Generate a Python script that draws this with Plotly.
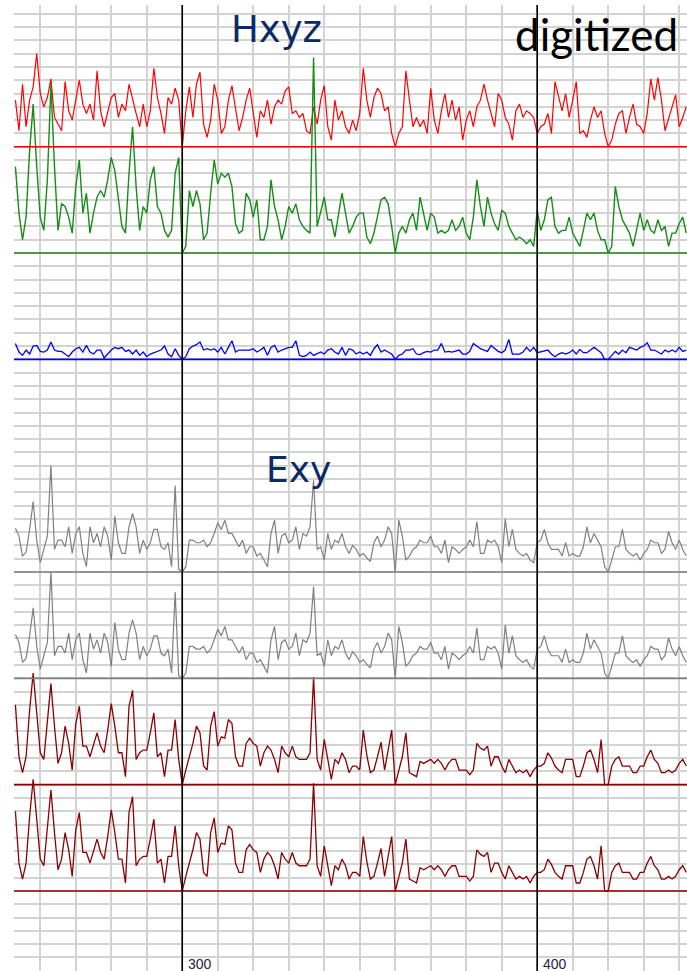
import plotly.graph_objects as go

# Sample index (time axis) shared by every channel
x_start, x_stop = 253, 443
sample_x = list(range(x_start, x_stop))

# Magnetic channels (grid units above each channel's baseline)
hx_vals = [
    3.5, 1.2, 4.7, 1.5, 3.5, 4.5, 7.0, 4.0, 3.0, 3.7,
    5.1, 2.2, 1.7, 1.2, 4.9, 2.7, 2.0, 3.5, 5.0, 3.2,
    2.5, 3.2, 2.0, 5.7, 2.7, 1.5, 2.5, 3.7, 4.0, 2.2,
    3.2, 2.7, 4.7, 3.5, 2.5, 1.5, 3.2, 1.5, 2.7, 5.9,
    3.7, 2.5, 1.0, 3.7, 3.2, 4.4, 3.5, 0.0, 2.7, 4.5,
    2.2, 4.7, 5.6, 1.7, 0.7, 2.0, 4.7, 3.5, 1.0, 1.5,
    3.5, 4.6, 2.7, 1.2, 2.2, 3.5, 4.4, 2.5, 0.7, 2.7,
    2.2, 3.5, 1.7, 3.0, 3.5, 3.2, 4.2, 4.5, 2.5, 2.7,
    2.2, 2.5, 1.2, 1.0, 3.0, 1.7, 3.5, 4.6, 1.5, 0.5,
    3.5, 2.0, 2.7, 1.5, 1.0, 2.0, 1.2, 2.5, 5.9, 3.5,
    2.2, 3.7, 4.4, 4.0, 2.7, 3.0, 1.0, 0.0, 1.0, 1.5,
    5.7, 3.5, 1.5, 2.2, 1.5, 2.0, 1.0, 4.4, 2.0, 1.0,
    2.7, 4.0, 2.2, 3.5, 2.0, 3.0, 0.5, 2.0, 2.7, 1.5,
    3.0, 3.5, 4.7, 3.5, 2.5, 1.5, 4.0, 3.5, 2.2, 1.7,
    0.5, 2.7, 3.2, 2.2, 2.7, 2.5, 2.2, 1.0, 1.5, 1.7,
    2.5, 1.0, 4.9, 3.7, 2.7, 4.0, 2.2, 3.5, 4.9, 1.0,
    1.2, 0.7, 2.0, 3.0, 2.2, 2.7, 1.0, 0.0, 0.5, 1.7,
    2.5, 2.7, 1.0, 2.2, 3.2, 1.7, 1.5, 1.0, 2.5, 5.1,
    3.5, 5.2, 3.5, 1.2, 2.2, 3.0, 3.9, 1.5, 2.2, 3.0,
]
hy_vals = [
    6.5, 3.0, 1.0, 2.7, 7.7, 11.2, 6.5, 2.7, 1.7, 5.5,
    12.7, 6.5, 1.7, 3.7, 3.5, 2.7, 1.5, 5.0, 7.0, 3.0,
    4.5, 1.5, 3.0, 4.2, 4.7, 4.2, 5.5, 7.2, 6.2, 4.0,
    2.0, 1.5, 6.0, 9.5, 5.0, 1.7, 3.5, 3.0, 5.5, 6.5,
    3.5, 3.0, 1.7, 1.2, 1.7, 6.0, 7.2, 0.0, 0.5, 4.7,
    3.5, 4.7, 3.7, 1.0, 1.5, 4.5, 7.0, 5.2, 6.0, 5.7,
    6.0, 5.0, 2.2, 1.5, 1.7, 4.5, 4.0, 2.7, 4.0, 1.0,
    1.0, 2.0, 5.5, 3.5, 2.5, 1.0, 2.0, 3.5, 3.0, 3.7,
    2.5, 2.0, 1.7, 1.5, 14.7, 2.0, 3.2, 4.2, 2.5, 2.5,
    1.2, 3.0, 4.5, 3.0, 1.5, 2.0, 2.7, 3.0, 3.0, 1.2,
    0.7, 1.5, 2.7, 4.0, 4.2, 3.7, 2.0, 0.0, 1.5, 2.0,
    1.5, 2.5, 3.0, 1.7, 4.2, 3.0, 1.7, 3.0, 2.7, 1.5,
    1.7, 1.5, 1.7, 2.5, 1.7, 2.0, 2.7, 1.5, 1.0, 2.7,
    5.5, 3.5, 2.0, 4.2, 3.0, 2.2, 1.7, 3.2, 3.0, 2.0,
    1.5, 1.0, 1.2, 1.0, 0.7, 1.0, 0.5, 3.2, 1.7, 2.5,
    4.0, 4.2, 2.0, 1.5, 1.7, 1.7, 2.7, 1.5, 1.0, 0.5,
    1.7, 3.0, 2.5, 3.0, 1.7, 1.0, 1.0, 0.0, 0.5, 5.0,
    3.5, 2.5, 2.0, 1.5, 0.5, 1.7, 3.0, 1.7, 2.5, 1.7,
    1.5, 2.5, 1.7, 2.0, 0.5, 1.5, 1.5, 2.2, 2.7, 1.5,
]
hz_vals = [
    1.2, 0.55, 0.3, 0.7, 0.4, 1.0, 1.05, 0.6, 0.55, 0.7,
    1.3, 0.7, 0.6, 0.6, 0.4, 0.2, 0.55, 0.8, 0.9, 0.55,
    1.05, 0.55, 0.4, 0.7, 0.7, 0.1, 0.4, 0.7, 0.9, 0.8,
    0.9, 0.6, 0.7, 0.4, 0.7, 0.3, 0.55, 0.2, 0.4, 0.5,
    0.55, 0.7, 1.0, 0.4, 0.2, 0.8, 0.3, 0.0, 0.2, 0.8,
    1.0, 1.1, 1.3, 0.7, 0.8, 0.7, 0.8, 0.55, 0.9, 0.4,
    0.9, 1.4, 0.55, 0.7, 0.7, 0.7, 0.7, 0.8, 0.55, 0.7,
    0.9, 0.3, 0.9, 1.05, 0.55, 0.7, 0.8, 0.9, 0.9, 1.4,
    0.3, 0.2, 0.3, 0.55, 0.3, 0.4, 0.55, 0.4, 0.7, 0.8,
    0.55, 0.4, 0.9, 0.3, 0.8, 0.7, 0.4, 0.55, 0.4, 0.55,
    0.3, 0.8, 1.1, 0.55, 0.7, 0.55, 0.4, 0.0, 0.3, 0.4,
    0.7, 0.7, 0.8, 0.4, 0.35, 0.5, 0.6, 0.55, 0.7, 0.7,
    1.2, 0.55, 0.6, 0.55, 0.6, 0.7, 0.4, 0.4, 0.6, 1.2,
    1.0, 0.8, 0.7, 0.6, 1.05, 0.8, 0.6, 0.5, 0.7, 1.5,
    0.4, 0.4, 0.4, 0.55, 0.9, 0.6, 0.9, 0.5, 0.55, 0.6,
    0.7, 0.4, 0.2, 0.4, 0.5, 0.4, 0.5, 0.7, 0.4, 0.75,
    0.5, 0.5, 0.7, 0.9, 0.7, 0.5, 0.0, 0.0, 0.3, 0.6,
    0.4, 0.7, 0.5, 0.9, 0.8, 0.7, 0.9, 1.0, 1.25, 0.7,
    0.7, 0.55, 0.4, 0.7, 0.55, 0.7, 0.55, 0.9, 0.6, 0.7,
]

# Electric channels
ex_vals = [
    3.3, 2.7, 1.2, 1.5, 3.2, 5.3, 2.4, 0.7, 1.7, 2.7,
    8.0, 1.7, 2.4, 2.4, 1.9, 3.4, 1.4, 2.9, 3.4, 1.4,
    0.4, 3.4, 2.2, 2.9, 1.9, 3.4, 2.7, 0.9, 4.2, 2.2,
    1.4, 1.4, 3.4, 4.4, 3.4, 1.4, 2.4, 1.7, 2.2, 3.2,
    3.2, 1.9, 1.7, 2.2, 0.4, 6.5, 0.2, 0.0, 0.4, 2.4,
    2.4, 2.2, 2.2, 2.4, 1.9, 2.2, 2.9, 3.7, 3.2, 3.9,
    2.9, 2.9, 2.4, 1.9, 2.4, 1.4, 1.9, 1.9, 1.2, 1.4,
    0.9, 0.4, 2.9, 3.9, 1.4, 2.7, 2.9, 2.2, 2.4, 3.4,
    1.7, 2.9, 2.7, 3.4, 6.9, 1.7, 1.9, 0.9, 2.9, 1.7,
    2.4, 2.2, 2.9, 1.9, 1.4, 2.0, 1.7, 1.2, 1.4, 1.05,
    0.8, 2.2, 2.7, 1.9, 2.4, 3.4, 2.9, 0.0, 3.9, 2.7,
    0.9, 1.2, 1.7, 1.9, 2.4, 2.2, 2.2, 2.7, 1.9, 1.9,
    1.4, 2.4, 0.7, 1.9, 1.7, 1.4, 1.7, 1.9, 2.4, 1.9,
    3.8, 1.4, 1.4, 2.4, 2.2, 2.4, 1.9, 0.7, 4.0, 1.9,
    3.2, 1.7, 1.4, 1.2, 1.4, 0.9, 0.7, 2.2, 2.4, 3.2,
    2.2, 1.7, 1.7, 1.7, 1.2, 2.2, 1.2, 1.4, 1.2, 1.2,
    1.9, 3.4, 2.2, 2.9, 2.4, 1.9, 0.4, 0.0, 0.9, 1.9,
    1.9, 3.2, 1.7, 1.4, 1.2, 1.4, 0.9, 1.4, 1.7, 2.4,
    2.2, 2.2, 1.4, 1.7, 3.05, 2.2, 1.7, 2.4, 1.7, 1.2,
]
ey_vals = [
    6.0, 2.1, 0.9, 2.1, 5.6, 8.4, 5.4, 2.4, 1.9, 4.6,
    7.6, 4.4, 1.6, 2.4, 4.4, 3.1, 1.1, 4.6, 5.9, 2.9,
    2.9, 2.1, 3.1, 3.9, 2.9, 2.4, 4.1, 6.1, 4.4, 2.4,
    2.4, 0.6, 5.9, 7.1, 1.9, 2.4, 2.6, 2.6, 3.9, 5.4,
    2.1, 2.4, 0.6, 2.6, 2.6, 4.9, 1.9, 0.0, 1.1, 2.1,
    3.1, 4.4, 3.9, 1.4, 1.1, 4.4, 5.5, 2.9, 3.6, 3.5,
    4.9, 4.6, 2.1, 1.4, 1.4, 3.1, 3.5, 3.1, 2.9, 1.4,
    2.4, 2.9, 2.6, 1.9, 0.9, 2.9, 2.4, 2.1, 2.9, 2.1,
    1.9, 1.9, 1.9, 2.4, 8.1, 1.9, 1.1, 3.4, 1.9, 0.4,
    1.9, 1.6, 2.4, 1.9, 0.9, 1.4, 1.4, 1.1, 4.1, 2.2,
    0.9, 1.1, 2.1, 3.2, 1.1, 2.6, 4.1, 0.0, 1.1, 2.1,
    3.9, 0.9, 0.75, 0.6, 1.75, 1.6, 1.75, 1.9, 1.6, 1.9,
    1.6, 1.1, 1.6, 1.9, 1.9, 1.1, 1.1, 1.1, 0.75, 1.1,
    3.1, 2.75, 2.6, 2.9, 1.4, 2.1, 2.1, 1.4, 0.9, 1.9,
    1.4, 0.9, 1.1, 0.9, 1.1, 0.6, 1.1, 1.4, 1.4, 1.6,
    2.4, 2.0, 1.4, 1.1, 0.9, 1.9, 1.9, 1.9, 0.6, 0.6,
    1.4, 2.4, 2.6, 1.9, 0.9, 3.4, 0.0, 0.0, 1.4, 1.9,
    2.1, 1.4, 1.4, 1.4, 0.9, 0.9, 1.4, 1.4, 2.1, 2.6,
    1.9, 1.6, 0.9, 0.9, 1.1, 0.9, 1.1, 1.6, 1.9, 1.4,
]

# Channel stacking: (values, baseline offset in grid units, colour, line width)
channels = [
    (hx_vals, 0, "#ff0000", 1.2),
    (hy_vals, -8, "#168c16", 1.4),
    (hz_vals, -16, "#0000ff", 1.3),
    (ex_vals, -32, "#808080", 1.2),
    (ex_vals, -40, "#808080", 1.2),
    (ey_vals, -48, "#8b0000", 1.3),
    (ey_vals, -56, "#8b0000", 1.3),
]

marker_ticks = [300, 400]
tick_labels = ["300", "400"]

x_range = [252.6, 442.2]
y_range = [-62.02, 10.66]

fig = go.Figure()
shapes = []
for vals, base, color, lw in channels:
    # zero line of each channel
    fig.add_hline(y=base, line=dict(color=color, width=1.6), layer="above")
    fig.add_trace(go.Scatter(x=sample_x, y=[v + base for v in vals],
                             mode="lines", line=dict(color=color, width=lw),
                             hoverinfo="skip", showlegend=False))

for t in marker_ticks:
    fig.add_vline(x=t, line=dict(color="#000000", width=1.6), layer="above")

W, H = 687, 971
ml, mt = 14, 5


def px(xp, yp):
    return (xp - ml) / (W - ml), (H - yp) / (H - mt)


annotations = []
for t, lab in zip(marker_ticks, tick_labels):
    annotations.append(dict(x=t, xref="x", y=0, yref="paper", text=lab,
                            showarrow=False, xanchor="left", yanchor="bottom",
                            xshift=4, yshift=-3,
                            font=dict(family="Liberation Sans", size=14,
                                      color="#1c2540")))

navy = "#0b2a66"
hx, hy = px(229, 29)
annotations.append(dict(x=hx, y=hy, xref="paper", yref="paper", text="Hxyz",
                        showarrow=False, xanchor="left", yanchor="middle",
                        font=dict(family="DejaVu Sans", size=37, color=navy)))
dx, dy = px(513, 34)
annotations.append(dict(x=dx, y=dy, xref="paper", yref="paper", text="digitized",
                        showarrow=False, xanchor="left", yanchor="middle",
                        font=dict(family="Lato", size=44, color="#000000")))
ex, ey = px(264, 470)
annotations.append(dict(x=ex, y=ey, xref="paper", yref="paper", text="Exy",
                        showarrow=False, xanchor="left", yanchor="middle",
                        font=dict(family="DejaVu Sans", size=36, color=navy)))

fig.update_layout(
    width=W, height=H,
    margin=dict(l=ml, r=0, t=mt, b=0, pad=0),
    paper_bgcolor="#ffffff", plot_bgcolor="#ffffff",
    annotations=annotations,
    xaxis=dict(range=x_range, tick0=0, dtick=10, showgrid=True,
               gridcolor="#d2d2d2", gridwidth=1.5, zeroline=False,
               showticklabels=False, ticks="", showline=False, fixedrange=True),
    yaxis=dict(range=y_range, tick0=0, dtick=1, showgrid=True,
               gridcolor="#d2d2d2", gridwidth=1.5, zeroline=False,
               showticklabels=False, ticks="", showline=False, fixedrange=True),
)

fig.write_html("out.html")
